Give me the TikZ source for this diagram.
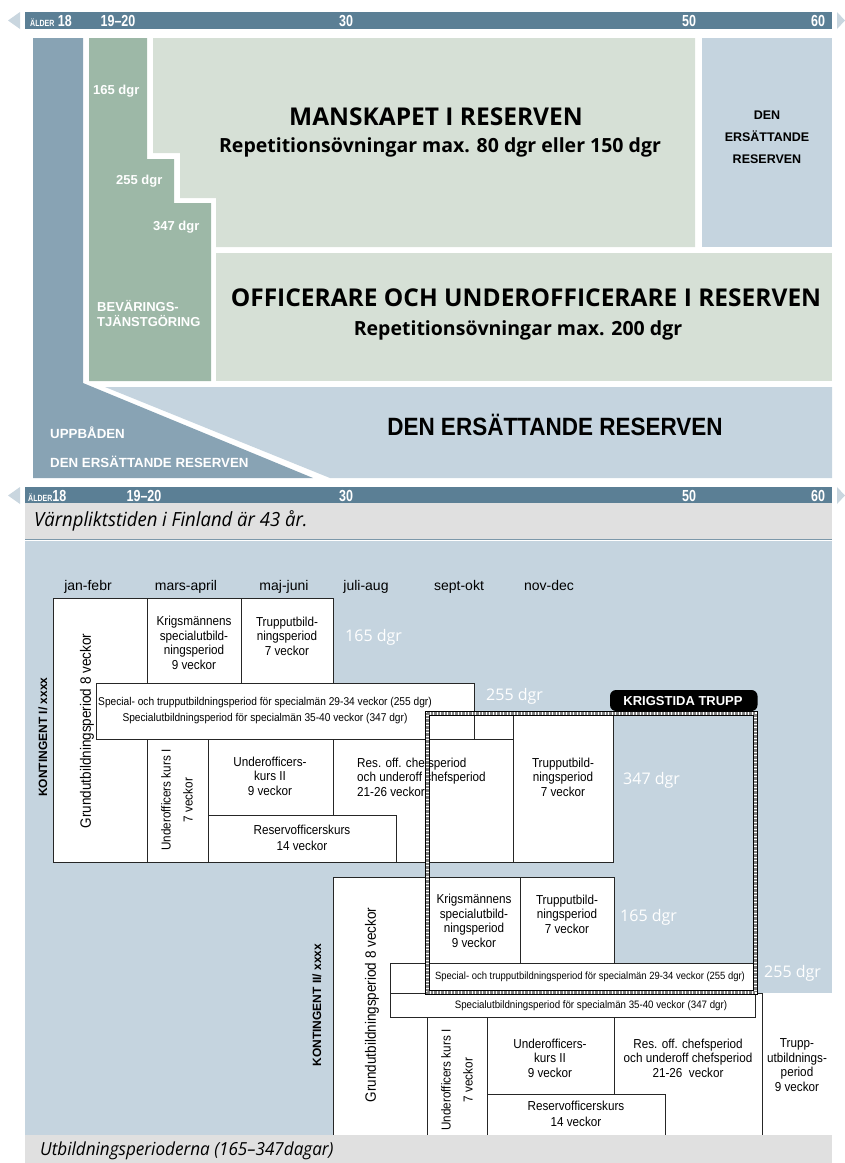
\documentclass[tikz,border=0pt]{standalone}
\usepackage{fontspec}
\setmainfont{Liberation Sans}
\newfontfamily\narrowsf[FakeStretch=0.9]{Liberation Sans}
\newfontfamily\condsf[FakeStretch=0.78]{Liberation Sans}
\newfontfamily\opensf{Open Sans}
\newfontfamily\capsf[FakeStretch=0.95]{Open Sans}

\definecolor{agebar}{HTML}{5B7F95}
\definecolor{agetip}{HTML}{C9D6DF}
\definecolor{uppbaden}{HTML}{88A3B4}
\definecolor{bevaring}{HTML}{9DB8A7}
\definecolor{reservgreen}{HTML}{D6E0D6}
\definecolor{reservblue}{HTML}{C5D4DF}
\definecolor{capgrey}{HTML}{E0E0E0}

\begin{document}
\begin{tikzpicture}[x=1pt,y=-1pt]

\tikzset{
  agestrip/.pic={
    \fill[agetip] (8,8.5) -- (20,0) -- (20,17) -- cycle;
    \fill[agebar] (25,0) rectangle (832,17);
    \fill[agetip] (837,0) -- (845,8.5) -- (837,17) -- cycle;
  },
  period/.style={draw=black!85, fill=white, line width=0.7pt},
  boxtext/.style={font=\narrowsf\fontsize{13}{14.5}\selectfont, align=center, inner sep=0pt},
  spectext/.style={font=\narrowsf\fontsize{11.3}{16}\selectfont, align=center, inner sep=0pt},
  month/.style={font=\fontsize{14}{16}\selectfont, anchor=base, inner sep=0pt},
  dgr/.style={font=\opensf\fontsize{16}{18}\selectfont, text=white, anchor=west, inner sep=0pt},
  agelabel/.style={font=\condsf\bfseries\fontsize{16}{16}\selectfont, text=white, inner sep=0pt},
  greenlabel/.style={font=\bfseries\fontsize{13}{15}\selectfont, text=white, anchor=west, align=left, inner sep=0pt},
  bigtitle/.style={font=\opensf\bfseries\fontsize{24.5}{26}\selectfont, inner sep=0pt},
  reptitle/.style={font=\opensf\bfseries\fontsize{19.5}{21}\selectfont, inner sep=0pt},
  uppblabel/.style={font=\bfseries\fontsize{13.3}{13.3}\selectfont, text=white, anchor=west, inner sep=0pt},
  kontlabel/.style={rotate=90, font=\bfseries\fontsize{12}{12}\selectfont, inner sep=0pt},
  grundlabel/.style={rotate=90, font=\narrowsf\fontsize{15}{15}\selectfont, inner sep=0pt},
  caption/.style={font=\capsf\itshape\fontsize{19}{21}\selectfont, anchor=west, inner sep=0pt}
}

\useasboundingbox (0,0) rectangle (845,1163);

% age strips
\pic at (0,12) {agestrip};
\pic at (0,487) {agestrip};
\node[agelabel, anchor=west] (aldertop) at (30,21) {{\fontsize{9}{9}\selectfont ÄLDER} 18};
\node[agelabel] (tjtop) at (118,21) {19–20};
\node[agelabel] (trettiotop) at (346,21) {30};
\node[agelabel] (femtiotop) at (689,21) {50};
\node[agelabel] (sextiotop) at (818,21) {60};
\node[agelabel, anchor=west] (alderbot) at (28,496) {{\fontsize{9}{9}\selectfont ÄLDER}18};
\node[agelabel] (tjbot) at (144,496) {19–20};
\node[agelabel] (trettiobot) at (346,496) {30};
\node[agelabel] (femtiobot) at (689,496) {50};
\node[agelabel] (sextiobot) at (818,496) {60};

% the reserves
\fill[uppbaden] (33,38) -- (83,38) -- (83,383) -- (313,478) -- (33,478) -- cycle;
\fill[reservblue] (105,387) -- (832,387) -- (832,478) -- (330,478) -- cycle;
\fill[bevaring] (89,38) -- (147,38) -- (147,159) -- (174,159) -- (174,203) -- (211,203) -- (211,381) -- (89,381) -- cycle;
\fill[reservgreen] (153,38) -- (695,38) -- (695,247) -- (216,247) -- (216,198) -- (180,198) -- (180,153) -- (153,153) -- cycle;
\fill[reservblue] (702,38) rectangle (832,247);
\fill[reservgreen] (216,253) rectangle (832,381);

\node[greenlabel] (dgrA) at (93,91) {165 dgr};
\node[greenlabel] (dgrB) at (116,181) {255 dgr};
\node[greenlabel] (dgrC) at (153,227) {347 dgr};
\node[greenlabel] (bevaringar) at (97,314) {BEVÄRINGS-\\TJÄNSTGÖRING};

\node[bigtitle] (manskap) at (436,117) {MANSKAPET I RESERVEN};
\node[reptitle] (manskaprep) at (440,147) {Repetitionsövningar max. 80 dgr eller 150 dgr};
\node[bigtitle] (officer) at (526,298) {OFFICERARE OCH UNDEROFFICERARE I RESERVEN};
\node[reptitle] (officerrep) at (518,330) {Repetitionsövningar max. 200 dgr};
\node[font=\bfseries\fontsize{12.5}{22}\selectfont, align=center, inner sep=0pt] (ersbox) at (767,137) {DEN\\ERSÄTTANDE\\RESERVEN};
\node[font=\narrowsf\bfseries\fontsize{25}{25}\selectfont, inner sep=0pt] (ersbig) at (555,425) {DEN ERSÄTTANDE RESERVEN};
\node[uppblabel] (uppbaden) at (50,433) {UPPBÅDEN};
\node[uppblabel] (erssmall) at (50,462) {DEN ERSÄTTANDE RESERVEN};

% captions and periods background
\fill[capgrey] (25,503) rectangle (832,539);
\draw[agebar!80, line width=1pt] (25,539.5) -- (832,539.5);
\node[caption, font=\capsf\itshape\fontsize{19.5}{21}\selectfont] (capA) at (34,521) {Värnpliktstiden i Finland är 43 år.};
\fill[reservblue] (25,541) rectangle (832,1135);

\node[month] (jan) at (88,590) {jan-febr};
\node[month] (mar) at (186,590) {mars-april};
\node[month] (maj) at (284,590) {maj-juni};
\node[month] (jul) at (366,590) {juli-aug};
\node[month] (sep) at (459,590) {sept-okt};
\node[month] (nov) at (549,590) {nov-dec};

% kontingent I
\draw[period] (53,598) rectangle (147,862);
\draw[period] (147,598) rectangle (241,683);
\draw[period] (241,598) rectangle (333,683);
\draw[period] (425,713) rectangle (513,739);
\draw[period] (333,739) rectangle (513,862);
\draw[period] (513,713) rectangle (613,862);
\draw[period] (147,739) rectangle (208,862);
\draw[period] (208,739) rectangle (333,815);
\draw[period] (208,815) rectangle (396,862);
\draw[period] (96,683) rectangle (474,739);

\node[kontlabel] (kontI) at (43,737) {KONTINGENT I/ xxxx};
\node[grundlabel] (grundI) at (87,731) {Grundutbildningsperiod 8 veckor};
\node[boxtext] (krigI) at (194,643) {Krigsmännens\\specialutbild-\\ningsperiod\\9 veckor};
\node[boxtext] (truppI) at (287,636) {Trupputbild-\\ningsperiod\\7 veckor};
\node[spectext] (specI) at (265,711) {Special- och trupputbildningsperiod för specialmän 29-34 veckor (255 dgr)\\Specialutbildningsperiod för specialmän 35-40 veckor (347 dgr)};
\node[boxtext, rotate=90] (uoaI) at (166,800) {Underofficers kurs I};
\node[boxtext, rotate=90] (uoaveckI) at (188,800) {7 veckor};
\node[boxtext] (uobI) at (270,776) {Underofficers-\\kurs II\\9 veckor};
\node[boxtext] (reskursI) at (302,838) {Reservofficerskurs\\[2pt]14 veckor};
\node[boxtext, align=left, anchor=west] (chefI) at (357,777) {Res. off. chefsperiod\\och underoff chefsperiod\\21-26 veckor};
\node[boxtext] (truppslutI) at (563,777) {Trupputbild-\\ningsperiod\\7 veckor};
\node[dgr] (dgrIa) at (345,637) {165 dgr};
\node[dgr] (dgrIb) at (486,696) {255 dgr};
\node[dgr] (dgrIc) at (623,780) {347 dgr};

% kontingent II
\draw[period] (333,877) rectangle (427,1137);
\draw[period] (427,877) rectangle (520,963);
\draw[period] (520,877) rectangle (614,963);
\draw[period] (614,993) rectangle (762,1137);
\draw[period] (427,1017) rectangle (487,1137);
\draw[period] (487,1017) rectangle (614,1094);
\draw[period] (487,1094) rectangle (665,1137);
\draw[period] (390,993) rectangle (755,1017);
\draw[period] (390,963) rectangle (755,993);
\fill[white] (762,993) rectangle (832,1135);
\draw[black!85, line width=0.7pt] (762,993) -- (762,1135);

\node[kontlabel] (kontII) at (317,1005) {KONTINGENT II/ xxxx};
\node[grundlabel] (grundII) at (372,1005) {Grundutbildningsperiod 8 veckor};
\node[boxtext] (krigII) at (474,921) {Krigsmännens\\specialutbild-\\ningsperiod\\9 veckor};
\node[boxtext] (truppII) at (567,914) {Trupputbild-\\ningsperiod\\7 veckor};
\node[spectext, font=\narrowsf\fontsize{10.5}{12}\selectfont] (specIIa) at (590,977) {Special- och trupputbildningsperiod för specialmän 29-34 veckor (255 dgr)};
\node[spectext, font=\narrowsf\fontsize{10.8}{12}\selectfont] (specIIb) at (591,1006) {Specialutbildningsperiod för specialmän 35-40 veckor (347 dgr)};
\node[boxtext, rotate=90] (uoaII) at (446,1080) {Underofficers kurs I};
\node[boxtext, rotate=90] (uoaveckII) at (468,1080) {7 veckor};
\node[boxtext] (uobII) at (550,1058) {Underofficers-\\kurs II\\9 veckor};
\node[boxtext] (reskursII) at (576,1114) {Reservofficerskurs\\[2pt]14 veckor};
\node[boxtext] (chefII) at (688,1058) {Res. off. chefsperiod\\och underoff chefsperiod\\21-26\ \ veckor};
\node[boxtext] (truppslutII) at (797,1065) {Trupp-\\utbildnings-\\period\\9 veckor};
\node[dgr] (dgrIIa) at (620,917) {165 dgr};
\node[dgr] (dgrIIb) at (764,973) {255 dgr};

% krigstida trupp
\draw[black, line width=5pt] (427,713) rectangle (755,992);
\draw[white, line width=3pt] (427,713) rectangle (755,992);
\draw[black!50, line width=3pt, dash pattern=on 0.7pt off 0.7pt] (427,713) rectangle (755,992);
\fill[black, rounded corners=6pt] (610,711) -- (610,690) -- (757.5,690) -- (757.5,711) -- cycle;
\node[font=\bfseries\fontsize{13}{13}\selectfont, text=white, inner sep=0pt] (krigstida) at (683,701) {KRIGSTIDA TRUPP};

\fill[capgrey] (25,1135) rectangle (832,1163);
\node[caption, font=\capsf\itshape\fontsize{18}{20}\selectfont] (capB) at (40,1151) {Utbildningsperioderna (165–347dagar)};

\end{tikzpicture}
\end{document}
